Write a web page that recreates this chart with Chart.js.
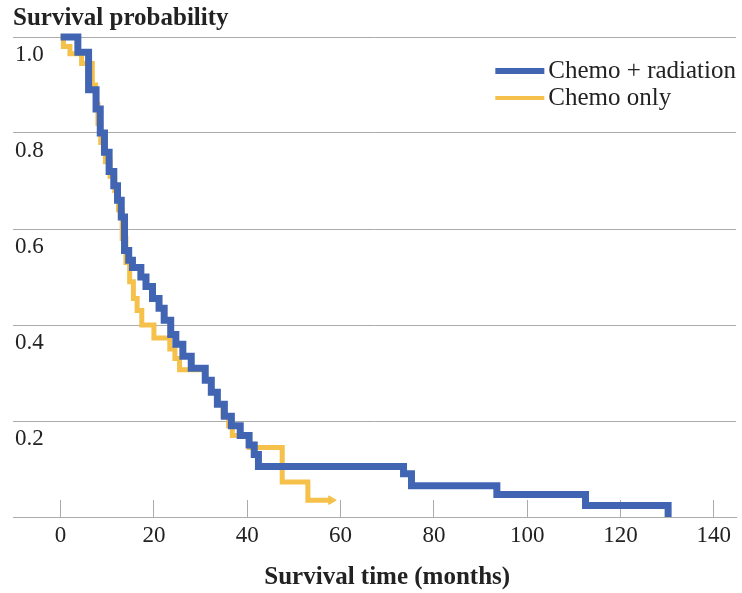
<!DOCTYPE html>
<html>
<head>
<meta charset="utf-8">
<script src="https://cdn.jsdelivr.net/npm/chart.js@4/dist/chart.umd.min.js"></script>
<style>
  html, body { margin: 0; padding: 0; background: #fff; }
  #wrap { width: 742px; height: 593px; position: relative; }
</style>
</head>
<body>
<div id="wrap"><canvas id="kmChart"></canvas></div>
<script>
// Kaplan-Meier curves (time in months, survival after the drop)
var blueTime = [0, 3.7, 6.0, 7.6, 8.5, 9.4, 10.4, 11.4, 12.2, 13.0, 13.7, 14.6, 15.4, 17.2, 18.3, 19.7, 21.1, 22.2, 23.6, 24.7, 26.2, 28.0, 31.0, 32.3, 33.6, 35.1, 36.6, 38.5, 40.4, 41.5, 42.4, 73.5, 75.2, 93.5, 112.5, 130.2];
var blueSurv = [1.0, 0.968, 0.89, 0.85, 0.80, 0.76, 0.72, 0.69, 0.66, 0.625, 0.555, 0.535, 0.52, 0.50, 0.48, 0.455, 0.435, 0.41, 0.38, 0.36, 0.335, 0.31, 0.285, 0.26, 0.235, 0.21, 0.19, 0.17, 0.15, 0.13, 0.105, 0.09, 0.065, 0.047, 0.024, 0.0];

var yellowTime = [0, 0.6, 2.0, 4.5, 6.8, 7.5, 8.0, 8.6, 9.6, 10.6, 11.6, 12.4, 13.2, 14.0, 14.8, 15.6, 16.4, 17.4, 20.0, 23.4, 24.5, 25.5, 31.0, 32.3, 33.6, 34.8, 36.0, 36.8, 40.5, 47.5, 53.0, 58.0];
var yellowSurv = [1.0, 0.98, 0.965, 0.945, 0.90, 0.86, 0.82, 0.78, 0.74, 0.71, 0.68, 0.64, 0.58, 0.53, 0.49, 0.455, 0.43, 0.40, 0.373, 0.35, 0.33, 0.307, 0.285, 0.26, 0.235, 0.21, 0.19, 0.17, 0.145, 0.073, 0.035, 0.035];

var seriesNames = ['Chemo + radiation', 'Chemo only'];
var xTicks = [0, 20, 40, 60, 80, 100, 120, 140];
var yTicks = [0, 0.2, 0.4, 0.6, 0.8, 1.0];
var xTitle = 'Survival time (months)';
var yTitle = 'Survival probability';

var BLUE = '#4265b3';
var YELLOW = '#f5c14a';
var TEXT = '#222';
var GRID = '#ababab';
var SERIF = '"Liberation Serif", "Times New Roman", serif';

function pts(t, s) {
    return t.map(function (v, i) { return { x: v, y: s[i] }; });
}

// legend drawn inside the plot, top right
var insideLegend = {
    id: 'insideLegend',
    afterDraw: function (chart) {
        var ctx = chart.ctx, area = chart.chartArea;
        ctx.save();
        ctx.font = '25px ' + SERIF;
        var widest = Math.max.apply(null, chart.data.datasets.map(function (d) { return ctx.measureText(d.label).width; }));
        var textX = area.right - widest;
        chart.data.datasets.forEach(function (d, i) {
            var y = area.top + 34 + i * 27;
            ctx.strokeStyle = d.borderColor;
            ctx.lineWidth = i === 0 ? 6 : 4;
            ctx.beginPath();
            ctx.moveTo(textX - 53, y);
            ctx.lineTo(textX - 4, y);
            ctx.stroke();
            ctx.fillStyle = TEXT;
            ctx.textBaseline = 'middle';
            ctx.textAlign = 'left';
            ctx.fillText(d.label, textX, y);
        });
        ctx.restore();
    }
};

// x caption centred on the 0..140 range, like the original
var xCaption = {
    id: 'xCaption',
    afterDraw: function (chart) {
        var ctx = chart.ctx, sx = chart.scales.x;
        var mid = sx.getPixelForValue((xTicks[0] + xTicks[xTicks.length - 1]) / 2);
        ctx.save();
        ctx.font = 'bold 25px ' + SERIF;
        ctx.fillStyle = TEXT;
        ctx.textAlign = 'center';
        ctx.textBaseline = 'middle';
        ctx.fillText(xTitle, mid, sx.bottom - 15);
        ctx.restore();
    }
};

var ctx = document.getElementById('kmChart').getContext('2d');
var myChart = new Chart(ctx, {
    type: 'line',
    data: {
        datasets: [{
            label: seriesNames[0],
            data: pts(blueTime, blueSurv),
            borderColor: BLUE,
            backgroundColor: BLUE,
            borderWidth: 7,
            stepped: 'before',
            pointRadius: 0,
            clip: false
        }, {
            label: seriesNames[1],
            data: pts(yellowTime, yellowSurv),
            borderColor: YELLOW,
            backgroundColor: YELLOW,
            borderWidth: 5,
            stepped: 'before',
            pointStyle: 'triangle',
            rotation: 90,
            pointRadius: function (c) { return c.dataIndex === yellowTime.length - 1 ? 5 : 0; },
            pointBorderWidth: 1,
            clip: false
        }]
    },
    options: {
        responsive: true,
        maintainAspectRatio: false,
        animation: false,
        devicePixelRatio: 1,
        layout: { padding: { top: 0, left: 13, right: 4, bottom: 0 } },
        plugins: {
            legend: { display: false },
            tooltip: { enabled: false },
            title: {
                display: true,
                text: yTitle,
                align: 'start',
                color: TEXT,
                font: { family: SERIF, size: 25, weight: 'bold' },
                padding: { top: 4, bottom: 3 }
            }
        },
        scales: {
            x: {
                type: 'linear',
                min: -10.2,
                max: 144.75,
                afterBuildTicks: function (s) { s.ticks = xTicks.map(function (v) { return { value: v }; }); },
                afterFit: function (s) { s.height = 76; s.paddingLeft = 0; s.paddingRight = 0; },
                grid: { drawOnChartArea: false, drawTicks: true, tickLength: -17, color: GRID, lineWidth: 1 },
                border: { display: true, color: GRID, width: 1 },
                ticks: { color: TEXT, padding: 22, font: { family: SERIF, size: 23 }, maxRotation: 0 },
                title: { display: false }
            },
            y: {
                min: 0,
                max: 1.0,
                afterBuildTicks: function (s) { s.ticks = yTicks.map(function (v) { return { value: v }; }); },
                afterFit: function (s) { s.width = 0; },
                grid: { color: GRID, lineWidth: 1, drawTicks: false },
                border: { display: false },
                ticks: {
                    mirror: true,
                    padding: 2,
                    labelOffset: 18,
                    color: TEXT,
                    font: { family: SERIF, size: 23 },
                    callback: function (v) { return v === 0 ? '' : v.toFixed(1); }
                }
            }
        }
    },
    plugins: [insideLegend, xCaption]
});
</script>
</body>
</html>
